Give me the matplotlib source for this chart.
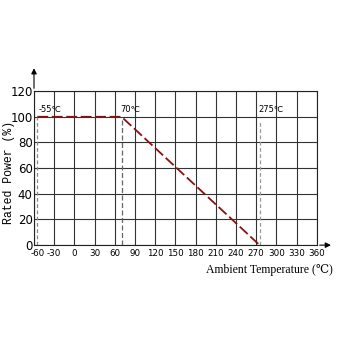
import matplotlib
matplotlib.use("Agg")
import matplotlib.pyplot as plt
import matplotlib.transforms as mtransforms

temps = [-55, 70, 275]
power = [100, 100, 0]
x_ticks = [-60, -30, 0, 30, 60, 90, 120, 150, 180, 210, 240, 270, 300, 330, 360]
y_ticks = [0, 20, 40, 60, 80, 100, 120]
marks = [-55, 70, 275]
mark_labels = ["-55℃", "70℃", "275℃"]

serif = ["Liberation Serif", "DejaVu Serif"]

fig = plt.figure(figsize=(3.4, 3.4), dpi=100)
ax = fig.add_axes([0.1, 0.279, 0.832, 0.453])

ax.set_xlim(-60, 360)
ax.set_ylim(0, 120)
ax.set_xticks(x_ticks)
ax.set_yticks(y_ticks)
ax.set_xticklabels([str(v) for v in x_ticks])
ax.grid(True, color="#333333", linewidth=0.8)
ax.set_axisbelow(True)
ax.tick_params(axis="x", length=0, pad=3)
ax.tick_params(axis="y", length=0, pad=1)
for lab in ax.get_xticklabels():
    lab.set_fontsize(6.3)
# nudge the first x label off the y axis
first = ax.get_xticklabels()[0]
first.set_transform(first.get_transform() +
                    mtransforms.ScaledTranslation(3 / 72, 0, fig.dpi_scale_trans))
for lab in ax.get_yticklabels():
    lab.set_fontsize(8.5)
for s in ax.spines.values():
    s.set_color("#222222")
    s.set_linewidth(0.8)

# reference dashed lines
ax.plot([marks[0], marks[0]], [0, 100], color="#888888", lw=0.9, ls=(0, (3, 2)))
ax.plot([marks[1], marks[1]], [0, 100], color="#666666", lw=0.9, ls=(0, (4, 2)))
ax.plot([marks[2], marks[2]], [0, 97], color="#999999", lw=0.9, ls=(0, (3, 2)))

# derating curve
ax.plot(temps, power, color="#8b1010", lw=1.3, ls=(0, (6, 2)))

for m, t, dx in zip(marks, mark_labels, [2, -2, -2]):
    ax.text(m + dx, 102, t, fontsize=6, va="bottom")

ax.set_ylabel("Rated Power (%)", family=["Liberation Mono", "DejaVu Sans Mono"], fontsize=8.3)
ax.yaxis.set_label_coords(-0.068, 0.47)
fig.text(0.98, 0.205, "Ambient Temperature (℃)", ha="right", va="center",
         fontsize=8.5, family=serif)

# axis arrows
ax.annotate("", xy=(-60, 140), xytext=(-60, 120), xycoords="data",
            arrowprops=dict(arrowstyle="-|>", color="black", lw=0.8, mutation_scale=8),
            annotation_clip=False)
ax.annotate("", xy=(385, 0), xytext=(360, 0), xycoords="data",
            arrowprops=dict(arrowstyle="-|>", color="black", lw=0.8, mutation_scale=8),
            annotation_clip=False)

fig.savefig("out.png", dpi=100)
